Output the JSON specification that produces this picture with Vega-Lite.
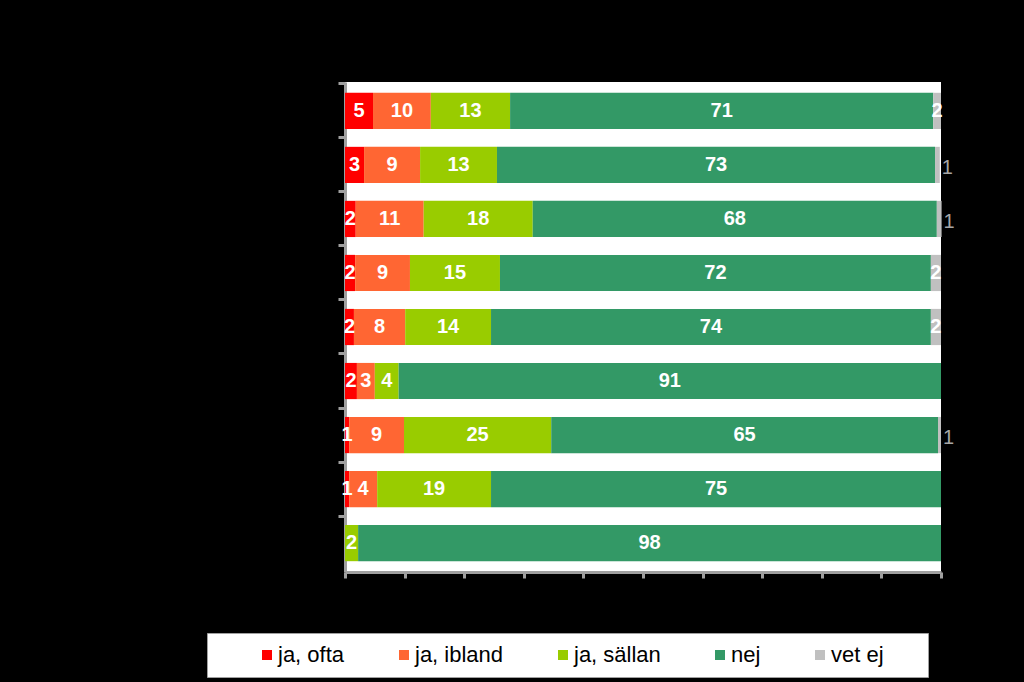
{
  "$schema": "https://vega.github.io/schema/vega-lite/v6.json",
  "autosize": {"type": "none"},
  "width": 596,
  "height": 490,
  "padding": {"left": 345, "top": 82, "right": 83, "bottom": 110},
  "background": "black",
  "config": {"view": {"fill": "white", "stroke": null}, "font": "Liberation Sans"},
  "data": {"values": [
    {"rad": "1", "svar": "ja, ofta", "v": 4.7, "t": "5"},
    {"rad": "1", "svar": "ja, ibland", "v": 9.7, "t": "10"},
    {"rad": "1", "svar": "ja, sällan", "v": 13.3, "t": "13"},
    {"rad": "1", "svar": "nej", "v": 71.0, "t": "71"},
    {"rad": "1", "svar": "vet ej", "v": 1.3, "t": "2"},
    {"rad": "2", "svar": "ja, ofta", "v": 3.2, "t": "3"},
    {"rad": "2", "svar": "ja, ibland", "v": 9.4, "t": "9"},
    {"rad": "2", "svar": "ja, sällan", "v": 12.9, "t": "13"},
    {"rad": "2", "svar": "nej", "v": 73.5, "t": "73"},
    {"rad": "2", "svar": "vet ej", "v": 0.8, "t": "1"},
    {"rad": "3", "svar": "ja, ofta", "v": 1.8, "t": "2"},
    {"rad": "3", "svar": "ja, ibland", "v": 11.4, "t": "11"},
    {"rad": "3", "svar": "ja, sällan", "v": 18.3, "t": "18"},
    {"rad": "3", "svar": "nej", "v": 67.8, "t": "68"},
    {"rad": "3", "svar": "vet ej", "v": 0.8, "t": "1"},
    {"rad": "4", "svar": "ja, ofta", "v": 1.7, "t": "2"},
    {"rad": "4", "svar": "ja, ibland", "v": 9.2, "t": "9"},
    {"rad": "4", "svar": "ja, sällan", "v": 15.1, "t": "15"},
    {"rad": "4", "svar": "nej", "v": 72.3, "t": "72"},
    {"rad": "4", "svar": "vet ej", "v": 1.7, "t": "2"},
    {"rad": "5", "svar": "ja, ofta", "v": 1.5, "t": "2"},
    {"rad": "5", "svar": "ja, ibland", "v": 8.6, "t": "8"},
    {"rad": "5", "svar": "ja, sällan", "v": 14.4, "t": "14"},
    {"rad": "5", "svar": "nej", "v": 73.8, "t": "74"},
    {"rad": "5", "svar": "vet ej", "v": 1.7, "t": "2"},
    {"rad": "6", "svar": "ja, ofta", "v": 2.0, "t": "2"},
    {"rad": "6", "svar": "ja, ibland", "v": 3.0, "t": "3"},
    {"rad": "6", "svar": "ja, sällan", "v": 4.0, "t": "4"},
    {"rad": "6", "svar": "nej", "v": 91.0, "t": "91"},
    {"rad": "7", "svar": "ja, ofta", "v": 0.7, "t": "1"},
    {"rad": "7", "svar": "ja, ibland", "v": 9.2, "t": "9"},
    {"rad": "7", "svar": "ja, sällan", "v": 24.7, "t": "25"},
    {"rad": "7", "svar": "nej", "v": 64.9, "t": "65"},
    {"rad": "7", "svar": "vet ej", "v": 0.5, "t": "1"},
    {"rad": "8", "svar": "ja, ofta", "v": 0.7, "t": "1"},
    {"rad": "8", "svar": "ja, ibland", "v": 4.7, "t": "4"},
    {"rad": "8", "svar": "ja, sällan", "v": 19.1, "t": "19"},
    {"rad": "8", "svar": "nej", "v": 75.5, "t": "75"},
    {"rad": "9", "svar": "ja, sällan", "v": 2.2, "t": "2"},
    {"rad": "9", "svar": "nej", "v": 97.8, "t": "98"}
  ]},
  "transform": [
    {"calculate": "indexof(['ja, ofta','ja, ibland','ja, sällan','nej','vet ej'], datum.svar)", "as": "k"},
    {"stack": "v", "groupby": ["rad"], "sort": [{"field": "k", "order": "ascending"}], "as": ["x0", "x1"]},
    {"calculate": "(datum.x0 + datum.x1) / 2", "as": "xm"}
  ],
  "encoding": {
    "y": {
      "field": "rad", "type": "nominal", "sort": null,
      "scale": {"paddingInner": 0.33, "paddingOuter": 0.2},
      "axis": {"labels": false, "title": null, "bandPosition": -0.247, "domainColor": "#a0a0a0", "domainWidth": 3, "tickColor": "#a0a0a0", "tickWidth": 3, "tickSize": 7}
    }
  },
  "layer": [
    {
      "mark": {"type": "bar"},
      "encoding": {
        "x": {"field": "x0", "type": "quantitative", "scale": {"domain": [0, 100]},
          "axis": {"values": [0,10,20,30,40,50,60,70,80,90,100], "labels": false, "title": null, "grid": false, "domainColor": "#a0a0a0", "domainWidth": 3, "tickColor": "#a0a0a0", "tickWidth": 3, "tickSize": 6}},
        "x2": {"field": "x1"},
        "color": {
          "field": "svar", "type": "nominal",
          "scale": {"domain": ["ja, ofta", "ja, ibland", "ja, sällan", "nej", "vet ej"], "range": ["#FF0000", "#FF6633", "#99CC00", "#339966", "#C0C0C0"]},
          "legend": {
            "orient": "none", "legendX": -138, "legendY": 551, "direction": "horizontal",
            "title": "\u00a0", "titleOrient": "left", "titlePadding": 38, "titleFontSize": 20,
            "fillColor": "white", "strokeColor": "#a0a0a0", "padding": 11,
            "symbolType": "square", "symbolSize": 100, "symbolStrokeWidth": 0,
            "labelFontSize": 22, "labelColor": "black", "labelFont": "Liberation Sans", "labelOffset": 0,
            "columnPadding": 48, "labelLimit": 300,
            "labelExpr": "datum.label == 'vet ej' ? datum.label + '\u2003\u2002\u200b' : datum.label"
          }
        }
      }
    },
    {
      "transform": [{"filter": "datum.svar != 'vet ej' || datum.t == '2'"}],
      "mark": {"type": "text", "fontWeight": "bold", "fontSize": 20, "color": "white"},
      "encoding": {"x": {"field": "xm", "type": "quantitative"}, "text": {"field": "t"}}
    },
    {
      "transform": [{"filter": "datum.svar == 'vet ej' && datum.t == '1'"}],
      "mark": {"type": "text", "fontSize": 20, "color": "#a6a6a6", "align": "left", "dx": 2, "dy": 3},
      "encoding": {"x": {"field": "x1", "type": "quantitative"}, "text": {"field": "t"}}
    }
  ]
}
